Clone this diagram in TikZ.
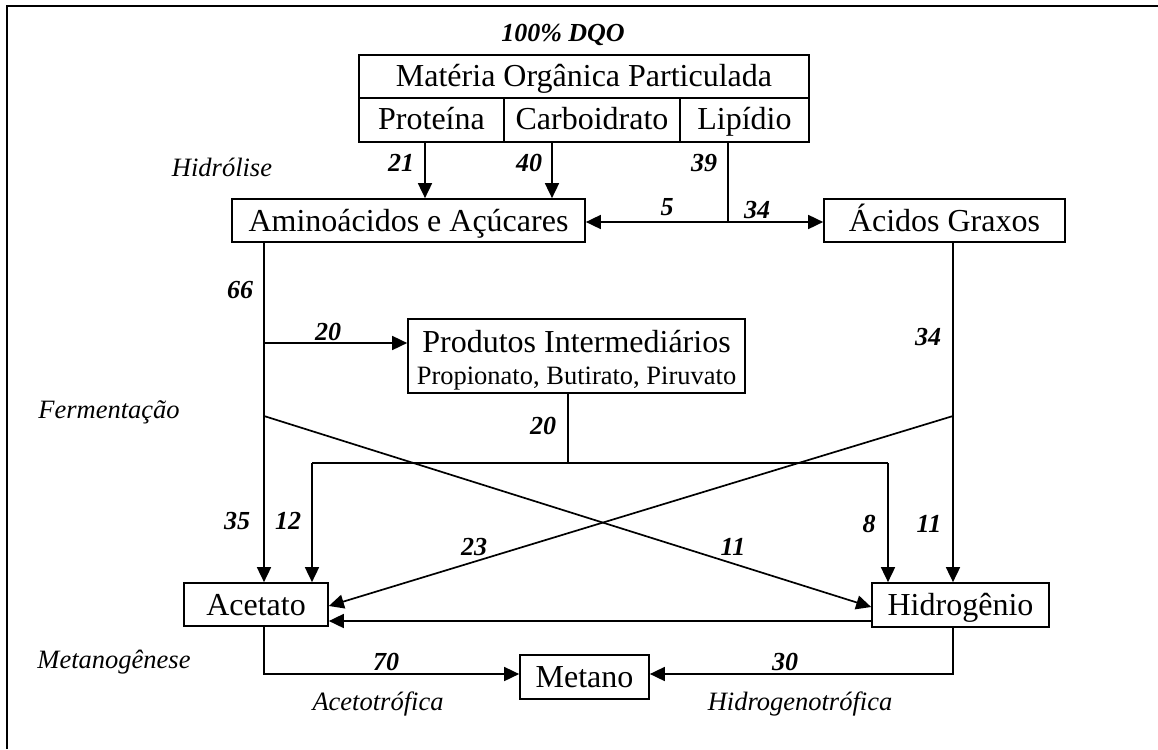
\documentclass[tikz,border=0pt]{standalone}
\usepackage{fontspec}
\setmainfont{Liberation Serif}
\usetikzlibrary{arrows.meta}
\tikzset{
  box/.style={draw, line width=1.7pt, inner sep=0pt, text height=27pt, text depth=6pt, font=\fontsize{32}{36}\selectfont},
  num/.style={inner sep=0pt, font=\fontsize{26}{30}\selectfont\bfseries\itshape},
  lab/.style={inner sep=0pt, font=\fontsize{26.5}{30}\selectfont\itshape},
  inner/.style={inner sep=0pt, anchor=base},
  ln/.style={line width=1.7pt},
  arr/.style={line width=1.7pt, -{Triangle[length=15pt,width=14pt]}}
}
\begin{document}
\begin{tikzpicture}[x=1pt,y=-1pt]
\useasboundingbox (0,0) rectangle (1158,749);
\draw[line width=2pt] (7,749) -- (7,6) -- (1158,6);

% boxes
\node[box, minimum width=450pt, minimum height=43pt] (mat) at (584,76.5) {Matéria Orgânica Particulada};
\node[box, minimum width=145pt, minimum height=44pt, text height=25pt, text depth=7pt] (prot) at (431.5,120) {Proteína};
\node[box, minimum width=176pt, minimum height=44pt, text height=25pt, text depth=7pt] (carb) at (592,120) {Carboidrato};
\node[box, minimum width=129pt, minimum height=44pt, text height=25pt, text depth=7pt] (lip) at (744.5,120) {Lipídio};
\node[box, minimum width=353pt, minimum height=43pt] (amino) at (408.5,220.5) {Aminoácidos e Açúcares};
\node[box, minimum width=241pt, minimum height=43pt] (acidos) at (944.5,220.5) {Ácidos Graxos};
\node[box, minimum width=337pt, minimum height=74pt] (prod) at (576.5,356) {};
\node[inner, font=\fontsize{32}{36}\selectfont] (prod1) at (576.5,352) {Produtos Intermediários};
\node[inner, font=\fontsize{26.5}{30}\selectfont] (prod2) at (576.5,384) {Propionato, Butirato, Piruvato};
\node[box, minimum width=144pt, minimum height=43pt] (acet) at (256,604.5) {Acetato};
\node[box, minimum width=177pt, minimum height=44pt] (hidro) at (960.5,605) {Hidrogênio};
\node[box, minimum width=129pt, minimum height=44pt] (met) at (584.5,677) {Metano};

% helper coordinates
\coordinate (xp) at (425,0);
\coordinate (xc) at (552,0);
\coordinate (jl) at (728,222);
\coordinate (xl) at (264,0);
\coordinate (br) at (264,343);
\coordinate (cl) at (264,416);
\coordinate (cr) at (953,416);
\coordinate (xr) at (953,0);
\coordinate (xm) at (568,0);
\coordinate (hl) at (312,463);
\coordinate (hr) at (888,463);
\coordinate (ya) at (0,607);
\coordinate (yb) at (0,606);
\coordinate (yh) at (0,621);
\coordinate (ym) at (0,674);

% hydrolysis
\draw[arr] (xp |- prot.south) -- (xp |- amino.north);
\draw[arr] (xc |- carb.south) -- (xc |- amino.north);
\draw[ln] (jl |- lip.south) -- (jl);
\draw[arr] (jl) -- (jl -| amino.east);
\draw[arr] (jl) -- (jl -| acidos.west);

% fermentation
\draw[arr] (xl |- amino.south) -- (xl |- acet.north);
\draw[arr] (br) -- (br -| prod.west);
\draw[arr] (cl) -- (hidro.west |- ya);
\draw[arr] (xr |- acidos.south) -- (xr |- hidro.north);
\draw[arr] (cr) -- (acet.east |- yb);
\draw[ln] (xm |- prod.south) -- (xm |- hl);
\draw[ln] (hl) -- (hr);
\draw[arr] (hl) -- (hl |- acet.north);
\draw[arr] (hr) -- (hr |- hidro.north);
\draw[arr] (hidro.west |- yh) -- (acet.east |- yh);

% methanogenesis
\draw[arr] (xl |- acet.south) -- (xl |- ym) -- (met.west |- ym);
\draw[arr] (xr |- hidro.south) -- (xr |- ym) -- (met.east |- ym);

% labels
\node[num] (tdqo) at (563,35) {100\% DQO};
\node[lab] (thid) at (222,167) {Hidrólise};
\node[lab] (tfer) at (109,412) {Fermentação};
\node[lab] (tmeg) at (114,662) {Metanogênese};
\node[lab] (tace) at (378,704) {Acetotrófica};
\node[lab] (thgt) at (800,704) {Hidrogenotrófica};

\node[num] (n21) at (401,163) {21};
\node[num] (n40) at (529,163) {40};
\node[num] (n39) at (704,163) {39};
\node[num] (n5) at (667,207) {5};
\node[num] (n34a) at (757,210) {34};
\node[num] (n66) at (240,290) {66};
\node[num] (n20a) at (328,332) {20};
\node[num] (n34b) at (928,337) {34};
\node[num] (n20b) at (543,426) {20};
\node[num] (n35) at (237,521) {35};
\node[num] (n12) at (288,521) {12};
\node[num] (n8) at (869,524) {8};
\node[num] (n11a) at (929,524) {11};
\node[num] (n23) at (474,547) {23};
\node[num] (n11b) at (733,547) {11};
\node[num] (n70) at (386,662) {70};
\node[num] (n30) at (785,662) {30};
\end{tikzpicture}
\end{document}
